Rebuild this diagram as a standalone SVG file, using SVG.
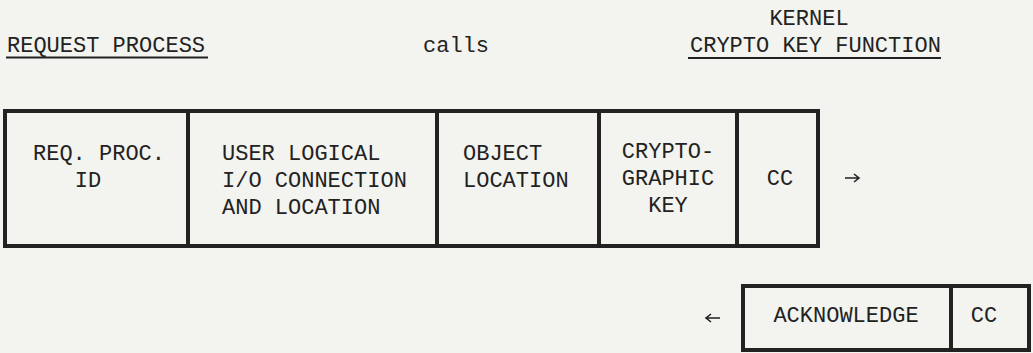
<svg xmlns="http://www.w3.org/2000/svg" width="1033" height="353" viewBox="0 0 1033 353">
<style>
text{font-family:"Liberation Mono","DejaVu Sans Mono",monospace;font-size:22px;fill:#222}
.m{text-anchor:middle}
.box{fill:none;stroke:#222;stroke-width:4}
.div{stroke:#222;stroke-width:4}
.ul{stroke:#222;stroke-width:2}
.arr{stroke:#222;stroke-width:1.6;fill:none}
</style>
<rect width="1033" height="353" fill="#f3f3ef"/>
<g id="headings">
<text x="7" y="52">REQUEST PROCESS</text>
<line class="ul" x1="6" y1="57.500" x2="208" y2="57.500"/>
<text x="423" y="52">calls</text>
<text class="m" x="809" y="25">KERNEL</text>
<text x="690" y="52">CRYPTO KEY FUNCTION</text>
<line class="ul" x1="688" y1="58" x2="941" y2="58"/>
</g>
<g id="request-message">
<rect class="box" x="5" y="111" width="813" height="135"/>
<line class="div" x1="188" y1="111" x2="188" y2="246"/>
<line class="div" x1="437" y1="111" x2="437" y2="246"/>
<line class="div" x1="599" y1="111" x2="599" y2="246"/>
<line class="div" x1="737" y1="111" x2="737" y2="246"/>
</g>
<g id="field-reqproc"><text class="m" x="99" y="160">REQ. PROC.</text><text class="m" x="88" y="187">ID</text></g>
<g id="field-user"><text x="222" y="160">USER LOGICAL</text><text x="222" y="187">I/O CONNECTION</text><text x="222" y="214">AND LOCATION</text></g>
<g id="field-object"><text x="463" y="160">OBJECT</text><text x="463" y="187">LOCATION</text></g>
<g id="field-key"><text class="m" x="668" y="158">CRYPTO-</text><text class="m" x="668" y="185">GRAPHIC</text><text class="m" x="668" y="212">KEY</text></g>
<g id="field-cc1"><text class="m" x="780" y="185">CC</text></g>
<g id="ack-message">
<rect class="box" x="743" y="286" width="286" height="64"/>
<line class="div" x1="951" y1="286" x2="951" y2="350"/>
<text class="m" x="846" y="322">ACKNOWLEDGE</text>
<text class="m" x="984" y="322">CC</text>
</g>
<g id="connectors">
<path class="arr" d="M845 178 H859 M854 174 L859 178 L854 182"/>
<path class="arr" d="M706 318 H720 M711 314 L706 318 L711 322"/>
</g>
</svg>
